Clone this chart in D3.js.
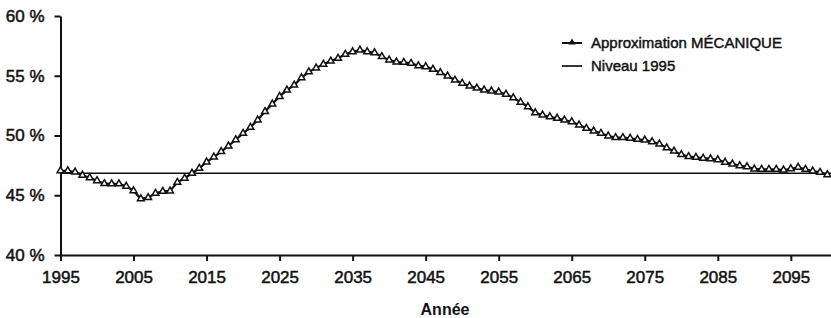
<!DOCTYPE html>
<html>
<head>
<meta charset="utf-8">
<script src="https://cdn.jsdelivr.net/npm/d3@7/dist/d3.min.js"></script>
<style>
  html, body { margin: 0; padding: 0; background: #fff; }
  svg { display: block; font-family: "Liberation Sans", Arial, sans-serif; }
  .axis text { font-size: 17px; fill: #111; stroke: #111; stroke-width: 0.5px; }
  .axis path, .axis line { stroke: #111; stroke-width: 2px; }
</style>
</head>
<body>
<svg id="chart" width="831" height="318"></svg>
<script>
// Data
const years = d3.range(1995, 2101);
const mecanique = [
  47.05, 47.05, 46.95, 46.67, 46.47, 46.22, 45.97, 45.95, 45.95, 45.75,
  45.38, 44.71, 44.80, 45.16, 45.33, 45.36, 46.08, 46.42, 46.84, 47.25,
  47.78, 48.20, 48.66, 49.12, 49.65, 50.18, 50.68, 51.30, 52.00, 52.64,
  53.27, 53.80, 54.22, 54.83, 55.33, 55.65, 55.96, 56.23, 56.46, 56.79,
  57.01, 57.15, 57.01, 56.93, 56.60, 56.32, 56.15, 56.12, 56.04, 55.84,
  55.76, 55.54, 55.26, 54.98, 54.64, 54.37, 54.14, 53.97, 53.81, 53.72,
  53.64, 53.45, 53.16, 52.78, 52.41, 51.90, 51.72, 51.57, 51.44, 51.30,
  51.15, 50.88, 50.60, 50.38, 50.18, 49.96, 49.82, 49.82, 49.77, 49.68,
  49.62, 49.48, 49.29, 48.97, 48.69, 48.40, 48.23, 48.17, 48.10, 48.05,
  47.97, 47.76, 47.62, 47.47, 47.39, 47.20, 47.17, 47.17, 47.17, 47.11,
  47.22, 47.34, 47.17, 47.03, 46.92, 46.72
];
const niveau1995 = 46.84;
const xTicks = [1995, 2005, 2015, 2025, 2035, 2045, 2055, 2065, 2075, 2085, 2095];
const yTicks = [40, 45, 50, 55, 60];
const legendLabels = ["Approximation MÉCANIQUE", "Niveau 1995"];

const svg = d3.select("#chart");

const x = d3.scaleLinear().domain([1995, 2100.5]).range([60.5, 831]);
const y = d3.scaleLinear().domain([40, 60]).range([255, 16]);

// axes
svg.append("g")
  .attr("class", "axis")
  .attr("transform", "translate(0,255)")
  .call(d3.axisBottom(x).tickValues(xTicks).tickFormat(d3.format("d")).tickSize(6).tickPadding(10).tickSizeOuter(0));

svg.append("g")
  .attr("class", "axis")
  .attr("transform", "translate(60.5,0)")
  .call(d3.axisLeft(y).tickValues(yTicks).tickFormat(d => d + " %").tickSize(6).tickPadding(10).tickSizeOuter(0));

// reference level
svg.append("line")
  .attr("x1", x(1995)).attr("x2", 831)
  .attr("y1", y(niveau1995)).attr("y2", y(niveau1995))
  .attr("stroke", "#111").attr("stroke-width", 1.7);

// series
const line = d3.line().x((d, i) => x(years[i])).y(d => y(d));
svg.append("path")
  .datum(mecanique)
  .attr("fill", "none")
  .attr("stroke", "#111")
  .attr("stroke-width", 2.2)
  .attr("d", line);

const tri = d3.symbol().type(d3.symbolTriangle).size(20);
svg.append("g")
  .selectAll("path")
  .data(mecanique)
  .join("path")
  .attr("transform", (d, i) => `translate(${x(years[i])},${y(d)})`)
  .attr("d", tri)
  .attr("fill", "#fff")
  .attr("stroke", "#111")
  .attr("stroke-width", 1.5);

// legend
const legend = svg.append("g").attr("transform", "translate(562,0)");
legend.append("line").attr("x1", 0).attr("x2", 20).attr("y1", 43).attr("y2", 43)
  .attr("stroke", "#111").attr("stroke-width", 2);
legend.append("path").attr("transform", "translate(10,42.5)").attr("d", d3.symbol().type(d3.symbolTriangle).size(22))
  .attr("fill", "#111");
legend.append("line").attr("x1", 0).attr("x2", 20).attr("y1", 66).attr("y2", 66)
  .attr("stroke", "#111").attr("stroke-width", 1.7);
legend.selectAll("text")
  .data(legendLabels)
  .join("text")
  .attr("x", 29)
  .attr("y", (d, i) => 48 + i * 23)
  .attr("font-size", 15)
  .attr("fill", "#111")
  .attr("stroke", "#111")
  .attr("stroke-width", 0.45)
  .text(d => d);

// x title
svg.append("text")
  .attr("x", 445)
  .attr("y", 315)
  .attr("text-anchor", "middle")
  .attr("font-size", 16)
  .attr("font-weight", "bold")
  .attr("fill", "#111")
  .text("Année");
</script>
</body>
</html>
